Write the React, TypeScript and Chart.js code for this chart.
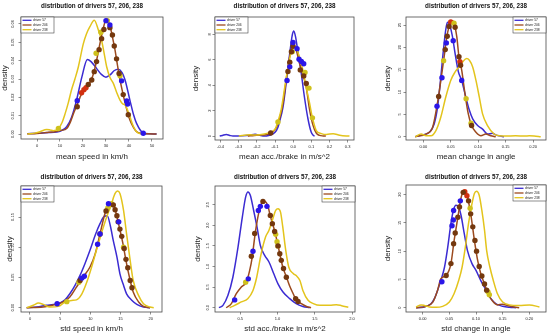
import React, { useEffect, useRef } from "react";
import { Chart, registerables } from "chart.js";

Chart.register(...registerables);

const FONT = '"Liberation Sans", Arial, Helvetica, sans-serif';
const DRIVERS = ["driver 57", "driver 206", "driver 238"];
const LINE_COLORS = ["#3b2bd2", "#9c4a1e", "#e3c41c"];
const DOT_COLORS: Record<string, string> = {
  blue: "#2b16e8",
  brown: "#74380e",
  yellow: "#cfc11c",
  red: "#d2300f",
};
const TITLE = "distribution of drivers 57, 206, 238";

// ---------- Panel 1: mean speed ----------
const meanSpeedX = [0, 10, 20, 30, 40, 50];
const meanSpeedXLabels = ["0", "10", "20", "30", "40", "50"];
const meanSpeedY = [0, 0.01, 0.02, 0.03, 0.04, 0.05, 0.06];
const meanSpeedYLabels = ["0.00", "0.01", "0.02", "0.03", "0.04", "0.05", "0.06"];
const meanSpeed57 = [[-4.2,0.0002],[0,0.0004],[5,0.0008],[8.5,0.0011],[12.9,0.004],[15,0.009],[17.2,0.0185],[19.5,0.031],[21.9,0.0407],[23.5,0.0395],[25.9,0.0358],[28,0.0325],[30,0.031],[32,0.0325],[33.5,0.0345],[35.4,0.0353],[37,0.0335],[38.3,0.0295],[40.4,0.0185],[42,0.0105],[43.3,0.0058],[46.2,0.0006],[49,0.0001],[52,0]];
const meanSpeed206 = [[-4.2,0.0001],[0,0.0003],[4,0.0008],[7.8,0.0013],[10.5,0.002],[12.9,0.003],[14.5,0.0065],[15.8,0.011],[17.3,0.0155],[18.7,0.02],[20.2,0.024],[21.6,0.026],[23,0.028],[24.2,0.0315],[25.2,0.036],[26.3,0.0425],[27.4,0.0495],[28.7,0.057],[30,0.062],[31.7,0.059],[32.8,0.053],[33.9,0.046],[35,0.0375],[36.1,0.0295],[37.2,0.023],[38.3,0.017],[39.4,0.0118],[40.4,0.0076],[42,0.0035],[43.3,0.0013],[45.5,0.0003],[47.7,0.0001],[52,0]];
const meanSpeed238 = [[-4.2,0],[-1,0.0005],[1.3,0.0013],[4.2,0.0025],[5.7,0.0022],[7.1,0.0018],[9.3,0.003],[10.8,0.006],[12.2,0.011],[13.6,0.017],[15,0.024],[16.5,0.03],[18,0.0367],[20.1,0.049],[21.5,0.0545],[23,0.0585],[24.9,0.062],[26.7,0.0567],[28.1,0.051],[29.2,0.044],[30.3,0.0367],[31.7,0.031],[33.2,0.0276],[34.7,0.0225],[36.1,0.0185],[37.2,0.0165],[38.3,0.0158],[39.4,0.013],[40.4,0.0095],[41.8,0.0045],[43.3,0.0013],[45,0.0002],[46.5,0]];
const meanSpeedDotsBlue = [[17.5,0.0182],[46.2,0.0004],[30,0.0618],[31.7,0.0595],[36.8,0.029],[39,0.018],[39.4,0.0164]];
const meanSpeedDotsBrown = [[17.5,0.0149],[22.3,0.027],[23.8,0.0295],[24.9,0.034],[25.9,0.0395],[27,0.046],[28.1,0.052],[29.1,0.057],[31.7,0.058],[32.8,0.054],[33.6,0.048],[34.6,0.041],[35.7,0.033],[37.5,0.0215],[39.7,0.0105]];
const meanSpeedDotsYellow = [[9.3,0.003],[25.7,0.044],[27.8,0.0555],[30.6,0.0618],[36.1,0.0318]];
const meanSpeedDotsRed = [[19.4,0.0225],[20.4,0.0242],[21.3,0.0252]];

// ---------- Panel 2: mean acc/brake ----------
const meanAccX = [-0.4, -0.3, -0.2, -0.1, 0, 0.1, 0.2, 0.3];
const meanAccXLabels = ["-0.4", "-0.3", "-0.2", "-0.1", "0.0", "0.1", "0.2", "0.3"];
const meanAccY = [0, 2, 4, 6, 8];
const meanAccYLabels = ["0", "2", "4", "6", "8"];
const meanAcc57 = [[-0.405,0],[-0.39,0.05],[-0.369,0.12],[-0.35,0.05],[-0.332,0],[-0.28,0.02],[-0.24,0.07],[-0.21,0.14],[-0.185,0.06],[-0.167,0],[-0.13,0.07],[-0.1,0.3],[-0.085,0.65],[-0.075,1.15],[-0.056,2.3],[-0.038,4.25],[-0.02,6.4],[-0.005,7.95],[0.003,8.26],[0.013,7.8],[0.026,6.6],[0.044,4.96],[0.062,3.05],[0.081,1.38],[0.099,0.31],[0.11,0.06],[0.118,0]];
const meanAcc206 = [[-0.25,0],[-0.215,0.05],[-0.185,0.08],[-0.15,0.11],[-0.12,0.24],[-0.093,0.67],[-0.075,1.38],[-0.056,2.58],[-0.038,4.5],[-0.024,5.9],[-0.011,6.75],[0.003,7.1],[0.017,6.75],[0.035,5.7],[0.053,4.85],[0.072,3.8],[0.09,2.1],[0.108,0.9],[0.127,0.24],[0.145,0.05],[0.165,0.01],[0.18,0]];
const meanAcc238 = [[-0.3,0],[-0.24,0.1],[-0.2,0.08],[-0.167,0.14],[-0.13,0.29],[-0.1,0.55],[-0.084,1.15],[-0.066,2.1],[-0.047,3.8],[-0.029,5.4],[-0.011,6.6],[0.004,7.0],[0.017,6.9],[0.035,6.2],[0.053,5.2],[0.072,3.8],[0.09,2.6],[0.105,1.5],[0.127,0.43],[0.155,0.19],[0.183,0.12],[0.22,0.19],[0.256,0.07],[0.293,0.01],[0.31,0]];
const meanAccDotsBlue = [[-0.034,4.37],[-0.019,5.44],[-0.001,7.35],[0.021,6.87],[0.032,6.04],[0.045,5.87],[0.058,5.68]];
const meanAccDotsBrown = [[-0.029,5.08],[-0.019,5.8],[-0.01,6.63],[-0.001,7.06],[0.039,5.2],[0.058,4.73],[0.072,4.13],[-0.124,0.24]];
const meanAccDotsYellow = [[-0.084,1.1],[-0.005,6.63],[0.087,3.77],[0.106,1.43],[0.065,5.0]];
const meanAccDotsRed: number[][] = [];

// ---------- Panel 3: mean change in angle ----------
const meanAngX = [0, 0.05, 0.1, 0.15, 0.2];
const meanAngXLabels = ["0.00", "0.05", "0.10", "0.15", "0.20"];
const meanAngY = [0, 5, 10, 15, 20, 25];
const meanAngYLabels = ["0", "5", "10", "15", "20", "25"];
const meanAng57 = [[-0.0145,0],[-0.0012,0.4],[0.011,1],[0.02,2.9],[0.026,6.6],[0.032,13.4],[0.036,18.6],[0.041,24],[0.044,25.6],[0.048,25],[0.053,22.5],[0.058,18.6],[0.064,14.5],[0.07,12.6],[0.076,9.6],[0.084,5.9],[0.09,4],[0.099,2.5],[0.108,1.7],[0.117,0.6],[0.126,0.75],[0.132,0.4],[0.138,0.2],[0.147,0]];
const meanAng206 = [[-0.0145,0],[0.005,0.6],[0.017,2.1],[0.026,7.7],[0.032,12.6],[0.038,17.9],[0.042,21.7],[0.047,24.7],[0.052,26],[0.056,25.4],[0.061,22.4],[0.065,17.9],[0.07,14.9],[0.076,9.6],[0.082,5.1],[0.088,2.5],[0.096,1],[0.105,0.2],[0.114,0.6],[0.123,0.2],[0.132,0]];
const meanAng238 = [[-0.0145,0],[-0.004,0.6],[0.005,0.2],[0.014,0.2],[0.023,1.35],[0.032,4.4],[0.041,8.9],[0.05,12.6],[0.058,14.5],[0.065,15.6],[0.072,16.8],[0.079,17.5],[0.084,17.1],[0.09,15.6],[0.096,12.6],[0.102,8.9],[0.108,5.1],[0.117,2.5],[0.129,0.6],[0.138,0.2],[0.15,0.15],[0.168,0.2],[0.185,0.15],[0.193,0.2],[0.202,0.15],[0.214,0]];
const meanAngDotsBlue = [[0.025,6.8],[0.034,13.2],[0.042,21],[0.07,12.6],[0.0545,21.5]];
const meanAngDotsBrown = [[0.028,9],[0.04,19.5],[0.0436,22.5],[0.047,24.7],[0.058,24.5],[0.065,17.9],[0.068,16],[0.088,2.5]];
const meanAngDotsYellow = [[0.037,17],[0.056,25.4],[0.078,8.5],[0.087,3]];
const meanAngDotsRed = [[0.05,25.7],[0.0667,16.8]];

// ---------- Panel 4: std speed ----------
const stdSpeedX = [0, 5, 10, 15, 20];
const stdSpeedXLabels = ["0", "5", "10", "15", "20"];
const stdSpeedY = [0, 0.05, 0.1, 0.15];
const stdSpeedYLabels = ["0.00", "0.05", "0.10", "0.15"];
const stdSpeed57 = [[-0.55,0],[1.1,0.001],[2.76,0.004],[3.87,0.0055],[4.97,0.008],[5.8,0.013],[6.6,0.023],[7.46,0.037],[8.29,0.0535],[9.1,0.0728],[9.94,0.0949],[10.8,0.12],[11.6,0.139],[12.3,0.151],[12.8,0.152],[13.3,0.136],[13.8,0.111],[14.4,0.084],[14.9,0.056],[15.5,0.037],[16,0.023],[16.9,0.012],[17.7,0.0055],[18.8,0.0012],[19.9,0]];
const stdSpeed206 = [[-0.55,0],[2.2,0.001],[3.87,0.0044],[5.5,0.0094],[6.6,0.0177],[7.7,0.034],[8.8,0.0507],[9.94,0.0673],[10.8,0.089],[11.6,0.122],[12.4,0.155],[13.1,0.172],[13.7,0.171],[14.3,0.155],[14.8,0.133],[15.4,0.106],[15.9,0.078],[16.6,0.045],[17.1,0.026],[18,0.0094],[18.8,0.0022],[19.9,0]];
const stdSpeed238 = [[-0.55,0],[0.55,0.004],[1.4,0.0077],[2.2,0.0055],[3.3,0.0011],[4.7,0.0022],[5.8,0.0094],[6.9,0.012],[7.7,0.013],[8.6,0.023],[9.4,0.042],[10.2,0.067],[11,0.095],[11.9,0.125],[12.7,0.15],[13.5,0.172],[14.1,0.189],[14.5,0.193],[14.9,0.189],[15.5,0.161],[16,0.122],[16.6,0.078],[17.1,0.045],[18,0.02],[18.8,0.0066],[19.9,0.0011],[20.5,0]];
const stdSpeedDotsBlue = [[4.5,0.0066],[11.2,0.105],[11.6,0.122],[13,0.172],[14.7,0.142],[8.6,0.049],[9,0.052]];
const stdSpeedDotsBrown = [[8.3,0.045],[12.6,0.16],[13.8,0.17],[14.1,0.162],[14.4,0.152],[14.6,0.142],[14.9,0.13],[15.2,0.118],[15.6,0.098],[15.9,0.08],[16.2,0.066],[16.6,0.045],[16.9,0.033],[11.6,0.122]];
const stdSpeedDotsYellow = [[6.1,0.01],[8.1,0.042],[12.9,0.165],[13.5,0.172],[15.5,0.1]];
const stdSpeedDotsRed: number[][] = [];

// ---------- Panel 5: std acc/brake ----------
const stdAccX = [0.5, 1.0, 1.5, 2.0];
const stdAccXLabels = ["0.5", "1.0", "1.5", "2.0"];
const stdAccY = [0, 0.5, 1.0, 1.5, 2.0, 2.5];
const stdAccYLabels = ["0.0", "0.5", "1.0", "1.5", "2.0", "2.5"];
const stdAcc57 = [[0.213,0],[0.267,0.057],[0.334,0.3],[0.4,0.74],[0.469,1.47],[0.527,2.2],[0.572,2.69],[0.603,2.81],[0.634,2.73],[0.679,2.36],[0.724,1.96],[0.769,1.51],[0.827,1.27],[0.885,1.11],[0.948,0.83],[1.006,0.58],[1.073,0.38],[1.163,0.22],[1.25,0.097],[1.34,0.03],[1.43,0]];
const stdAcc206 = [[0.31,0],[0.38,0.1],[0.446,0.34],[0.513,0.5],[0.58,0.62],[0.625,0.9],[0.66,1.23],[0.69,1.67],[0.72,2.04],[0.76,2.4],[0.796,2.56],[0.827,2.58],[0.872,2.46],[0.9,2.24],[0.94,2.0],[0.98,1.72],[1.03,1.31],[1.07,0.99],[1.12,0.74],[1.16,0.54],[1.21,0.34],[1.25,0.19],[1.32,0.097],[1.39,0.03],[1.45,0]];
const stdAcc238 = [[0.357,0],[0.424,0.057],[0.513,0.14],[0.6,0.22],[0.67,0.42],[0.72,0.74],[0.78,1.31],[0.84,1.72],[0.885,1.88],[0.93,2.12],[0.975,2.36],[1.006,2.4],[1.04,2.32],[1.07,1.96],[1.11,1.39],[1.15,0.99],[1.21,0.83],[1.25,0.78],[1.3,0.66],[1.34,0.42],[1.41,0.18],[1.48,0.1],[1.57,0.057],[1.7,0.057],[1.79,0.073],[1.86,0.05],[1.95,0.01]];
const stdAccDotsBlue = [[0.424,0.19],[0.607,0.7],[0.67,1.37],[0.742,2.36],[0.769,2.46],[0.858,2.46]];
const stdAccDotsBrown = [[0.648,1.25],[0.693,1.8],[0.804,2.58],[0.903,2.24],[0.93,2.04],[0.961,1.85],[1.006,1.5],[1.03,1.31],[1.05,1.15],[1.08,0.95],[1.118,0.74],[1.243,0.22],[1.275,0.15]];
const stdAccDotsYellow = [[0.572,0.62],[0.993,1.6],[1.006,1.5],[0.975,1.78]];
const stdAccDotsRed: number[][] = [];

// ---------- Panel 6: std change in angle ----------
const stdAngX = [0, 0.05, 0.1, 0.15, 0.2];
const stdAngXLabels = ["0.00", "0.05", "0.10", "0.15", "0.20"];
const stdAngY = [0, 5, 10, 15, 20];
const stdAngYLabels = ["0", "5", "10", "15", "20"];
const stdAng57 = [[-0.0125,0],[0.003,0.12],[0.0156,0.7],[0.022,1.6],[0.028,3.1],[0.034,4.8],[0.041,7.2],[0.047,10.7],[0.053,14.9],[0.0575,17.2],[0.0625,18.1],[0.0675,17.8],[0.072,16.3],[0.078,13.1],[0.084,10.1],[0.0925,7.8],[0.1,6.6],[0.109,4.8],[0.119,3.1],[0.128,1.6],[0.1375,0.7],[0.15,0.24],[0.1625,0.06],[0.175,0]];
const stdAng206 = [[-0.0125,0],[0.006,0.24],[0.019,1],[0.028,3.1],[0.034,5.1],[0.044,5.7],[0.053,7.8],[0.059,11.9],[0.066,16],[0.071,19],[0.075,20.3],[0.079,20.5],[0.084,19.6],[0.091,16],[0.097,11.9],[0.103,8.4],[0.109,6],[0.116,4.2],[0.122,2.5],[0.13,1.3],[0.14,0.5],[0.15,0.6],[0.159,0.4],[0.172,0.12],[0.181,0]];
const stdAng238 = [[-0.0125,0.12],[-0.003,0.5],[0.003,0.4],[0.0125,0.12],[0.025,0.06],[0.0375,0.24],[0.05,1],[0.059,2.5],[0.0675,4.8],[0.074,7.2],[0.08,10.7],[0.086,14.9],[0.0925,18.4],[0.097,20.2],[0.101,20.6],[0.106,19.9],[0.111,17.2],[0.116,13.7],[0.12,10.1],[0.126,7.2],[0.1325,4.8],[0.14,2.5],[0.15,1],[0.1625,0.5],[0.181,0.4],[0.2,0.5],[0.219,0.12]];
const stdAngDotsBlue = [[0.036,4.6],[0.0575,15.5],[0.055,14.5],[0.058,17.2],[0.0706,18.9]];
const stdAngDotsBrown = [[0.044,5.7],[0.053,7.8],[0.058,11.3],[0.061,13.2],[0.066,16],[0.069,17.8],[0.076,20.4],[0.086,18.9],[0.09,16.6],[0.094,14.3],[0.098,11.9],[0.101,10],[0.106,7.3],[0.111,5.6],[0.116,4.2],[0.12,3.1]];
const stdAngDotsYellow = [[0.089,17.6],[0.1225,2.8],[0.125,2.3]];
const stdAngDotsRed = [[0.079,20.5],[0.083,19.8]];

type Pts = number[][];
type Spec = {
  px: number; py: number; w: number; h: number;
  l: number; r: number; t: number; b: number;
  xMin: number; xMax: number; yMin: number; yMax: number;
  xTicks: number[]; xLabels: string[]; yTicks: number[]; yLabels: string[];
  xTitle: string; curves: Pts[]; dots: [string, Pts][];
  legendRight: boolean; yTitleX: number; xTitleY: number; titleY: number;
};

const SPECS: Spec[] = [
  { px: 0, py: 0, w: 183, h: 167, l: 21, r: 163, t: 17, b: 139,
    xMin: -6.96, xMax: 54.8, yMin: -0.0027, yMax: 0.0638,
    xTicks: meanSpeedX, xLabels: meanSpeedXLabels, yTicks: meanSpeedY, yLabels: meanSpeedYLabels,
    xTitle: "mean speed in km/h", curves: [meanSpeed57, meanSpeed206, meanSpeed238],
    dots: [["blue", meanSpeedDotsBlue], ["brown", meanSpeedDotsBrown], ["yellow", meanSpeedDotsYellow], ["red", meanSpeedDotsRed]],
    legendRight: false, yTitleX: 5, xTitleY: 157, titleY: 6 },
  { px: 183, py: 0, w: 183, h: 167, l: 32, r: 171, t: 17, b: 140,
    xMin: -0.431, xMax: 0.335, yMin: -0.31, yMax: 9.36,
    xTicks: meanAccX, xLabels: meanAccXLabels, yTicks: meanAccY, yLabels: meanAccYLabels,
    xTitle: "mean acc./brake in m/s^2", curves: [meanAcc57, meanAcc206, meanAcc238],
    dots: [["blue", meanAccDotsBlue], ["brown", meanAccDotsBrown], ["yellow", meanAccDotsYellow], ["red", meanAccDotsRed]],
    legendRight: false, yTitleX: 13, xTitleY: 157, titleY: 6 },
  { px: 366, py: 0, w: 184, h: 167, l: 40, r: 180, t: 17, b: 140,
    xMin: -0.0315, xMax: 0.2236, yMin: -0.74, yMax: 26.8,
    xTicks: meanAngX, xLabels: meanAngXLabels, yTicks: meanAngY, yLabels: meanAngYLabels,
    xTitle: "mean change in angle", curves: [meanAng57, meanAng206, meanAng238],
    dots: [["blue", meanAngDotsBlue], ["brown", meanAngDotsBrown], ["yellow", meanAngDotsYellow], ["red", meanAngDotsRed]],
    legendRight: true, yTitleX: 22, xTitleY: 157, titleY: 6 },
  { px: 0, py: 167, w: 183, h: 167, l: 21, r: 162, t: 19, b: 145,
    xMin: -1.49, xMax: 21.87, yMin: -0.0071, yMax: 0.2013,
    xTicks: stdSpeedX, xLabels: stdSpeedXLabels, yTicks: stdSpeedY, yLabels: stdSpeedYLabels,
    xTitle: "std speed in km/h", curves: [stdSpeed57, stdSpeed206, stdSpeed238],
    dots: [["blue", stdSpeedDotsBlue], ["brown", stdSpeedDotsBrown], ["yellow", stdSpeedDotsYellow], ["red", stdSpeedDotsRed]],
    legendRight: false, yTitleX: 10, xTitleY: 162, titleY: 10 },
  { px: 183, py: 167, w: 183, h: 167, l: 32, r: 172, t: 19, b: 145,
    xMin: 0.16, xMax: 2.04, yMin: -0.104, yMax: 2.954,
    xTicks: stdAccX, xLabels: stdAccXLabels, yTicks: stdAccY, yLabels: stdAccYLabels,
    xTitle: "std acc./brake in m/s^2", curves: [stdAcc57, stdAcc206, stdAcc238],
    dots: [["blue", stdAccDotsBlue], ["brown", stdAccDotsBrown], ["yellow", stdAccDotsYellow], ["red", stdAccDotsRed]],
    legendRight: true, yTitleX: 15, xTitleY: 162, titleY: 10 },
  { px: 366, py: 167, w: 184, h: 167, l: 40, r: 180, t: 18, b: 145,
    xMin: -0.0313, xMax: 0.2313, yMin: -0.76, yMax: 21.7,
    xTicks: stdAngX, xLabels: stdAngXLabels, yTicks: stdAngY, yLabels: stdAngYLabels,
    xTitle: "std change in angle", curves: [stdAng57, stdAng206, stdAng238],
    dots: [["blue", stdAngDotsBlue], ["brown", stdAngDotsBrown], ["yellow", stdAngDotsYellow], ["red", stdAngDotsRed]],
    legendRight: true, yTitleX: 21.7, xTitleY: 162, titleY: 10 },
];

function Panel({ spec }: { spec: Spec }) {
  const ref = useRef<HTMLCanvasElement | null>(null);
  useEffect(() => {
    const canvas = ref.current;
    if (!canvas) return;
    const s = spec;
    const xtitleLH = 8 * 1.2;
    const framePlugin = {
      id: "frame",
      afterDraw(chart: any) {
        const { ctx, chartArea: a } = chart;
        ctx.save();
        ctx.strokeStyle = "#4a4a4a";
        ctx.lineWidth = 0.8;
        ctx.strokeRect(a.left, a.top, a.right - a.left, a.bottom - a.top);
        // title
        ctx.fillStyle = "#111";
        ctx.font = `bold 6.3px ${FONT}`;
        ctx.textAlign = "center";
        ctx.textBaseline = "middle";
        ctx.fillText(TITLE, (a.left + a.right) / 2, s.titleY);
        // legend
        const lw = 33, lh = 16;
        const x0 = s.legendRight ? a.right - lw : a.left;
        const y0 = a.top;
        ctx.fillStyle = "#fff";
        ctx.fillRect(x0, y0, lw, lh);
        ctx.strokeStyle = "#444";
        ctx.lineWidth = 0.6;
        ctx.strokeRect(x0, y0, lw, lh);
        ctx.font = `3.3px ${FONT}`;
        ctx.textAlign = "left";
        DRIVERS.forEach((d, i) => {
          const yy = y0 + 3.3 + i * 4.7;
          ctx.strokeStyle = LINE_COLORS[i];
          ctx.lineWidth = 1.3;
          ctx.beginPath();
          ctx.moveTo(x0 + 1.5, yy);
          ctx.lineTo(x0 + 10.5, yy);
          ctx.stroke();
          ctx.fillStyle = "#222";
          ctx.fillText(d, x0 + 12, yy + 0.2);
        });
        ctx.restore();
      },
    };
    const datasets: any[] = [];
    s.curves.forEach((pts, i) => {
      datasets.push({
        type: "line",
        label: DRIVERS[i],
        data: pts.map(([x, y]) => ({ x, y })),
        borderColor: LINE_COLORS[i],
        borderWidth: 1.5,
        pointRadius: 0,
        fill: false,
        cubicInterpolationMode: "monotone",
        order: 2 + (2 - i),
      });
    });
    s.dots.forEach(([c, pts]) => {
      datasets.push({
        type: "scatter",
        label: c,
        data: pts.map(([x, y]) => ({ x, y })),
        backgroundColor: DOT_COLORS[c],
        borderWidth: 0,
        pointRadius: 2.7,
        order: 0,
      });
    });
    const chart = new Chart(canvas, {
      type: "scatter",
      data: { datasets },
      options: {
        animation: false,
        responsive: false,
        events: [],
        layout: { padding: { left: 0, top: s.t, right: s.w - s.r, bottom: 0 } },
        plugins: { legend: { display: false }, tooltip: { enabled: false }, title: { display: false } },
        scales: {
          x: {
            type: "linear",
            min: s.xMin,
            max: s.xMax,
            afterBuildTicks: (sc: any) => { sc.ticks = s.xTicks.map((v) => ({ value: v })); },
            afterFit: (sc: any) => { sc.height = s.h - s.b; },
            ticks: {
              autoSkip: false, maxRotation: 0, minRotation: 0, padding: 1.5,
              color: "#222", font: { size: 4, family: FONT },
              callback: (_v: any, i: number) => s.xLabels[i],
            },
            grid: { drawOnChartArea: false, drawTicks: true, tickLength: 2.5, color: "#444", lineWidth: 0.6 },
            border: { display: false },
            title: {
              display: true, text: s.xTitle, color: "#222",
              font: { size: 8, family: FONT },
              padding: { top: 0, bottom: s.h - s.xTitleY - xtitleLH / 2 },
            },
          },
          y: {
            type: "linear",
            min: s.yMin,
            max: s.yMax,
            afterBuildTicks: (sc: any) => { sc.ticks = s.yTicks.map((v) => ({ value: v })); },
            afterFit: (sc: any) => { sc.width = s.l; },
            ticks: {
              autoSkip: false, minRotation: 90, maxRotation: 90, crossAlign: "center", padding: 1.5,
              color: "#222", font: { size: 4, family: FONT },
              callback: (_v: any, i: number) => s.yLabels[i],
            },
            grid: { drawOnChartArea: false, drawTicks: true, tickLength: 2.5, color: "#444", lineWidth: 0.6 },
            border: { display: false },
            title: {
              display: true, text: "density", color: "#222",
              font: { size: 8, family: FONT },
              padding: { top: s.yTitleX - xtitleLH / 2, bottom: 0 },
            },
          },
        },
      } as any,
      plugins: [framePlugin],
    });
    return () => chart.destroy();
  }, [spec]);
  return (
    <canvas
      ref={ref}
      width={spec.w}
      height={spec.h}
      style={{ position: "absolute", left: spec.px, top: spec.py, width: spec.w, height: spec.h }}
    />
  );
}

export default function App() {
  useEffect(() => {
    document.body.style.margin = "0";
  }, []);
  return (
    <div style={{ position: "relative", width: 550, height: 334, background: "#fff", overflow: "hidden" }}>
      {SPECS.map((s, i) => (
        <Panel key={i} spec={s} />
      ))}
    </div>
  );
}
